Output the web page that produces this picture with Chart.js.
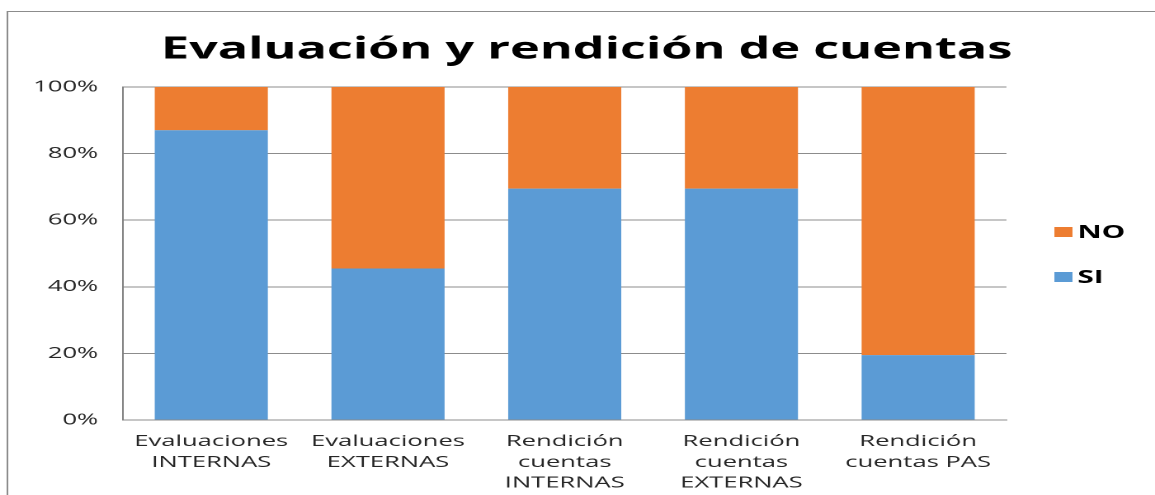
<!DOCTYPE html>
<html>
<head>
<meta charset="utf-8">
<script src="https://cdn.jsdelivr.net/npm/chart.js@4/dist/chart.umd.min.js"></script>
<style>
  body { margin: 0; background: #fff; }
  canvas { display: block; }
</style>
</head>
<body>
<!-- drawn at 700 wide and shown stretched to 1155 -->
<canvas id="chart" width="700" height="495" style="width:1155px;height:495px"></canvas>
<script>
/* --------------- Data --------------------- */
const categories = [
  ["Evaluaciones", "INTERNAS"],
  ["Evaluaciones", "EXTERNAS"],
  ["Rendición", "cuentas", "INTERNAS"],
  ["Rendición", "cuentas", "EXTERNAS"],
  ["Rendición", "cuentas PAS"],
];
const siValues = [87, 45.5, 69.5, 69.5, 19.5];
const noValues = [13, 54.5, 30.5, 30.5, 80.5];
const titleText = "Evaluación y rendición de cuentas";

const blue = "#5B9BD5";
const orange = "#ED7D31";

/* --------------- Title, legend and outer frame --------------------- */
const framePlugin = {
  id: "frame",
  afterDraw(chart) {
    const ctx = chart.ctx;
    ctx.save();
    ctx.strokeStyle = "#8c8c8c";
    ctx.lineWidth = 1;
    ctx.beginPath();
    ctx.moveTo(4.5, chart.height);
    ctx.lineTo(4.5, 11.5);
    ctx.lineTo(chart.width, 11.5);
    ctx.stroke();

    ctx.fillStyle = "#000";
    ctx.font = "bold 30.5px 'Open Sans'";
    ctx.textAlign = "center";
    ctx.textBaseline = "middle";
    ctx.fillText(titleText, 355.5, 50);

    // legend, last series on top
    const sets = chart.data.datasets.slice().reverse();
    ctx.font = "bold 18px 'Open Sans'";
    ctx.textAlign = "left";
    sets.forEach((ds, i) => {
      const y = 232 + i * 45;
      ctx.fillStyle = ds.backgroundColor;
      ctx.fillRect(639, y - 5, 11, 10);
      ctx.fillStyle = "#000";
      ctx.fillText(ds.label, 653, y + 1);
    });
    ctx.restore();
  },
};

new Chart(document.getElementById("chart"), {
  type: "bar",
  plugins: [framePlugin],
  data: {
    labels: categories,
    datasets: [
      { label: "SI", data: siValues, backgroundColor: blue },
      { label: "NO", data: noValues, backgroundColor: orange },
    ],
  },
  options: {
    responsive: false,
    devicePixelRatio: 2,
    animation: false,
    layout: { padding: { top: 87, right: 90, bottom: 0, left: 0 } },
    datasets: {
      bar: { categoryPercentage: 1, barPercentage: 0.64 },
    },
    scales: {
      x: {
        stacked: true,
        grid: { display: false, drawTicks: false },
        border: { color: "#8c8c8c" },
        ticks: {
          color: "#262626",
          font: { family: "'Open Sans'", size: 15.5, lineHeight: 1.35 },
          padding: 11,
          maxRotation: 0,
          autoSkip: false,
        },
        afterFit: (scale) => { scale.height = 75; },
      },
      y: {
        stacked: true,
        min: 0,
        max: 100,
        grid: { color: "#8c8c8c", drawTicks: false },
        border: { color: "#7f7f7f" },
        ticks: {
          stepSize: 20,
          color: "#262626",
          font: { family: "'Open Sans'", size: 15.5 },
          padding: 15,
          callback: (v) => v + "%",
        },
        afterFit: (scale) => { scale.width = 74.5; },
      },
    },
    plugins: {
      title: { display: false },
      tooltip: { enabled: false },
      legend: { display: false },
    },
  },
});
</script>
</body>
</html>
